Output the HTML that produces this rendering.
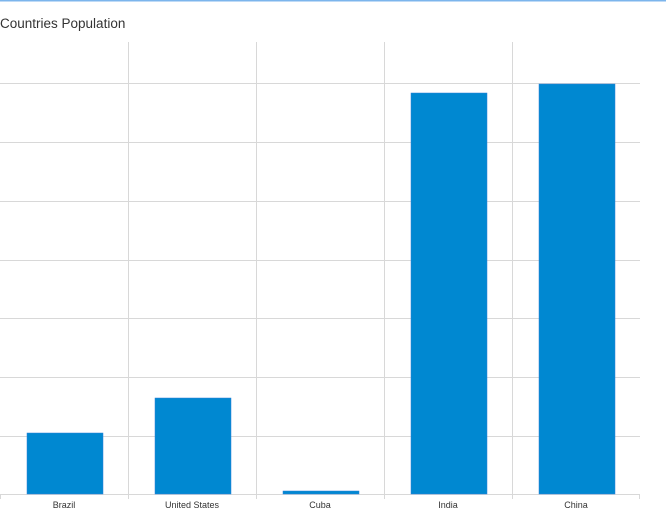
<!DOCTYPE html>
<html><head><style>
html,body{margin:0;padding:0;background:#fff;width:666px;height:522px;overflow:hidden}
</style></head><body>
<svg width="666" height="522" xmlns="http://www.w3.org/2000/svg" style="display:block">
<rect x="0" y="0" width="666" height="1.5" fill="#7cb5ec"/>
<text x="0" y="28" font-family="Liberation Sans, sans-serif" font-size="13.5" fill="#333">Countries Population</text>
<g stroke="#d8d8d8" stroke-width="1">
<line x1="0" x2="640" y1="83.5" y2="83.5"/>
<line x1="0" x2="640" y1="142.5" y2="142.5"/>
<line x1="0" x2="640" y1="201.5" y2="201.5"/>
<line x1="0" x2="640" y1="260.5" y2="260.5"/>
<line x1="0" x2="640" y1="318.5" y2="318.5"/>
<line x1="0" x2="640" y1="377.5" y2="377.5"/>
<line x1="0" x2="640" y1="436.5" y2="436.5"/>
<line x1="0" x2="640" y1="494.5" y2="494.5"/>
<line x1="128.5" x2="128.5" y1="42" y2="499"/>
<line x1="256.5" x2="256.5" y1="42" y2="499"/>
<line x1="384.5" x2="384.5" y1="42" y2="499"/>
<line x1="512.5" x2="512.5" y1="42" y2="499"/>
<line x1="0.5" x2="0.5" y1="494" y2="499"/>
<line x1="639.5" x2="639.5" y1="494" y2="499"/>
</g>
<g fill="#0088d1" stroke="#2f7ed8" stroke-width="0.5">
<rect x="27" y="433" width="76" height="61"/>
<rect x="155" y="398" width="76" height="96"/>
<rect x="283" y="491" width="76" height="3"/>
<rect x="411" y="93" width="76" height="401"/>
<rect x="539" y="84" width="76" height="410"/>
</g>
<g font-family="Liberation Sans, sans-serif" font-size="9" fill="#333" text-anchor="middle">
<text x="64" y="508">Brazil</text>
<text x="192" y="508">United States</text>
<text x="320" y="508">Cuba</text>
<text x="448" y="508">India</text>
<text x="576" y="508">China</text>
</g>
</svg>
</body></html>
